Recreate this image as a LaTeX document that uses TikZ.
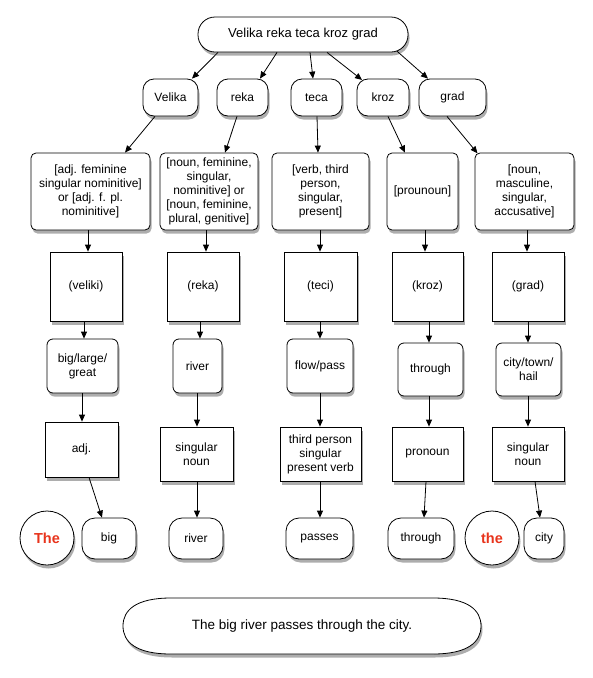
\documentclass[tikz,border=0pt]{standalone}
\usepackage{fontspec}
\setmainfont{Liberation Sans}
\usetikzlibrary{arrows.meta,shadows,calc}
\definecolor{redtxt}{RGB}{232,52,28}
\begin{document}
\begin{tikzpicture}[x=1pt,y=-1pt,
  shad/.style={drop shadow={shadow xshift=1.5pt, shadow yshift=-3.5pt, opacity=0.4, fill=black!80}},
  base/.style={draw=black, line width=0.8pt, fill=white, inner sep=0pt, align=center,
    font=\fontsize{12}{14}\selectfont, shad},
  sq/.style={base, rectangle},
  gram/.style={base, rectangle, rounded corners=5pt, minimum height=77pt},
  mean/.style={base, rectangle, rounded corners=6pt},
  word/.style={base, rectangle, rounded corners=11pt, minimum height=37pt},
  pill/.style={base, rectangle, rounded corners=13pt, minimum height=41pt},
  redc/.style={base, circle, minimum size=54pt, text=redtxt, font=\fontsize{14.5}{16}\selectfont\bfseries},
  arr/.style={-{Triangle[length=7pt,width=6pt]}, line width=0.8pt, draw=black}]
\useasboundingbox (0,0) rectangle (593,678);
\fill[white] (0,0) rectangle (593,678);

% top
\node[base, rectangle, rounded corners=17pt, minimum width=210pt, minimum height=35pt,
  font=\fontsize{13}{15}\selectfont] (top) at (303,34.5) {Velika reka teca kroz grad};

% row 2
\node[word, minimum width=55pt] (velika) at (170.5,97.5) {Velika};
\node[word, minimum width=51pt] (reka) at (242.5,97.5) {reka};
\node[word, minimum width=51pt] (teca) at (316.5,97.5) {teca};
\node[word, minimum width=52pt] (kroz) at (383,97.5) {kroz};
\node[word, minimum width=67pt] (grad) at (452.5,97.5) {grad};

% row 3
\node[gram, minimum width=119pt] (g1) at (90.5,191.5) {[adj. feminine\\singular nominitive]\\or {[}adj. f. pl.\\nominitive]};
\node[gram, minimum width=98pt] (g2) at (209,191.5) {[noun, feminine,\\singular,\\nominitive] or\\{[}noun, feminine,\\plural, genitive]};
\node[gram, minimum width=97pt] (g3) at (320.5,191.5) {[verb, third\\person,\\singular,\\present]};
\node[gram, minimum width=71pt] (g4) at (422.5,191.5) {[prounoun]};
\node[gram, minimum width=99pt] (g5) at (524.5,191.5) {[noun,\\masculine,\\singular,\\accusative]};

% row 4
\node[sq, minimum width=72pt, minimum height=69pt] (p1) at (86,286.5) {(veliki)};
\node[sq, minimum width=72pt, minimum height=69pt] (p2) at (203,286.5) {(reka)};
\node[sq, minimum width=73pt, minimum height=69pt] (p3) at (320.5,286.5) {(teci)};
\node[sq, minimum width=71pt, minimum height=69pt] (p4) at (427.5,286.5) {(kroz)};
\node[sq, minimum width=72pt, minimum height=69pt] (p5) at (528,286.5) {(grad)};

% row 5
\node[mean, minimum width=71pt, minimum height=54pt] (m1) at (82.5,366) {big/large/\\great};
\node[mean, minimum width=49pt, minimum height=54pt] (m2) at (197.5,366) {river};
\node[mean, minimum width=66pt, minimum height=54pt] (m3) at (320,366) {flow/pass};
\node[mean, minimum width=65pt, minimum height=53pt] (m4) at (430.5,369.5) {through};
\node[mean, minimum width=65pt, minimum height=53pt] (m5) at (528.5,369.5) {city/town/\\hail};

% row 6
\node[sq, minimum width=73pt, minimum height=55pt] (t1) at (81.5,449.5) {adj.};
\node[sq, minimum width=73pt, minimum height=54pt] (t2) at (196.5,454) {singular\\noun};
\node[sq, minimum width=81pt, minimum height=54pt] (t3) at (320.5,454) {third person\\singular\\present verb};
\node[sq, minimum width=71pt, minimum height=54pt] (t4) at (427.5,454) {pronoun};
\node[sq, minimum width=72pt, minimum height=54pt] (t5) at (528,454) {singular\\noun};

% row 7
\node[redc] (the1) at (47,538) {The};
\node[pill, minimum width=54pt] (big) at (109,538.5) {big};
\node[pill, minimum width=54pt] (river) at (196,538.5) {river};
\node[pill, minimum width=67pt] (passes) at (319.5,538.5) {passes};
\node[pill, minimum width=66pt] (through) at (421,538.5) {through};
\node[redc] (the2) at (492,538) {the};
\node[pill, minimum width=40pt] (city) at (544,538.5) {city};

% bottom sentence
\path[draw=black, line width=0.8pt, fill=white, shad]
  (171,598) -- (433,598) .. controls (468,598) and (481,610) .. (481,626)
  .. controls (481,642) and (468,654) .. (433,654) -- (171,654)
  .. controls (136,654) and (123,642) .. (123,626)
  .. controls (123,610) and (136,598) .. (171,598) -- cycle;
\node[inner sep=0pt, font=\fontsize{13.5}{16}\selectfont] (bot) at (302,626) {The big river passes through the city.};

% arrows top -> row 2
\draw[arr] ([xshift=-85pt]top.south) -- ([xshift=21.5pt]velika.north);
\draw[arr] ([xshift=-26pt]top.south) -- ([xshift=17.5pt]reka.north);
\draw[arr] ([xshift=7pt]top.south) -- ([xshift=-3.5pt]teca.north);
\draw[arr] ([xshift=24pt]top.south) -- ([xshift=-21pt,yshift=-1.3pt]kroz.north);
\draw[arr] ([xshift=94pt,yshift=1.2pt]top.south) -- ([xshift=-24.5pt]grad.north);

% row 2 -> row 3
\draw[arr] ([xshift=-15.5pt]velika.south) -- ([xshift=34.5pt]g1.north);
\draw[arr] ([xshift=-5.5pt]reka.south) -- ([xshift=16pt]g2.north);
\draw[arr] ([xshift=0.5pt]teca.south) -- ([xshift=-2.5pt]g3.north);
\draw[arr] ([xshift=5pt]kroz.south) -- ([xshift=-17.5pt]g4.north);
\draw[arr] ([xshift=-5.5pt]grad.south) -- ([xshift=-47pt,yshift=-0.7pt]g5.north);

% row 3 -> row 4
\draw[arr] ([xshift=-2.5pt]g1.south) -- ([xshift=2pt]p1.north);
\draw[arr] ([xshift=-3pt]g2.south) -- ([xshift=3pt]p2.north);
\draw[arr] ([xshift=-0.5pt]g3.south) -- ([xshift=-0.5pt]p3.north);
\draw[arr] ([xshift=2.5pt]g4.south) -- ([xshift=-2.5pt]p4.north);
\draw[arr] ([xshift=2.5pt]g5.south) -- ([xshift=-1pt]p5.north);

% row 4 -> row 5
\draw[arr] ([xshift=-2pt]p1.south) -- ([xshift=1.5pt]m1.north);
\draw[arr] ([xshift=-3pt]p2.south) -- ([xshift=2.5pt]m2.north);
\draw[arr] ([xshift=-0.5pt]p3.south) -- (m3.north);
\draw[arr] ([xshift=1.5pt]p4.south) -- ([xshift=-1.5pt]m4.north);
\draw[arr] (p5.south) -- ([xshift=-0.5pt]m5.north);

% row 5 -> row 6
\draw[arr] ([xshift=-0.5pt]m1.south) -- ([xshift=0.5pt]t1.north);
\draw[arr] ([xshift=-0.5pt]m2.south) -- ([xshift=0.5pt]t2.north);
\draw[arr] (m3.south) -- ([xshift=-0.5pt]t3.north);
\draw[arr] ([xshift=-1.5pt]m4.south) -- ([xshift=1.5pt]t4.north);
\draw[arr] ([xshift=-0.5pt]m5.south) -- (t5.north);

% row 6 -> row 7
\draw[arr] ([xshift=7.5pt]t1.south) -- ([xshift=-7pt]big.north);
\draw[arr] ([xshift=0.5pt]t2.south) -- ([xshift=1pt]river.north);
\draw[arr] ([xshift=-0.5pt]t3.south) -- ([xshift=0.5pt]passes.north);
\draw[arr] ([xshift=-1.5pt]t4.south) -- ([xshift=3pt]through.north);
\draw[arr] ([xshift=7pt]t5.south) -- ([xshift=-4pt]city.north);
\end{tikzpicture}
\end{document}
